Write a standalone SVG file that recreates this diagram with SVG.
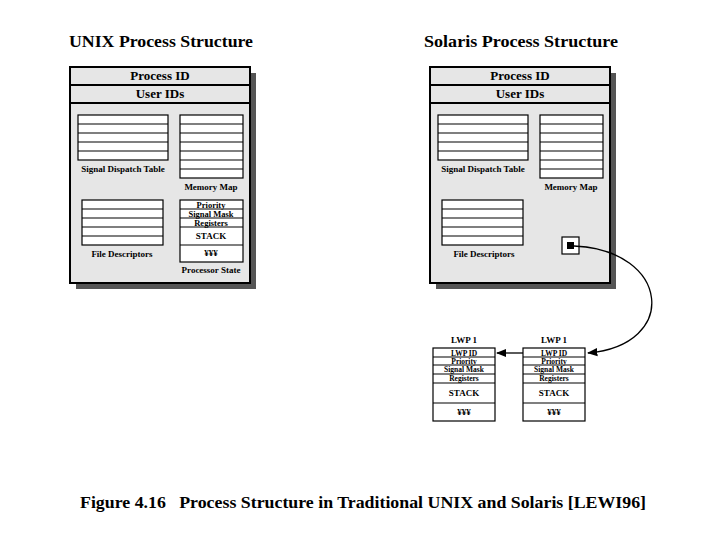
<svg xmlns="http://www.w3.org/2000/svg" width="720" height="540" viewBox="0 0 720 540">
<style>
text{font-family:"Liberation Serif","Times New Roman",serif;font-weight:bold;fill:#000;text-anchor:middle}
.t{font-size:17px}.h{font-size:13px}.s{font-size:9px}.l{font-size:8.5px}.m{font-size:7.5px}.c{font-size:17px;text-anchor:start}
.box{fill:#e6e6e6;stroke:#000;stroke-width:2}
.sh{fill:#555}
.w{fill:#fff;stroke:#000;stroke-width:1.2}
.cn{fill:none;stroke:#000;stroke-width:1.3}
</style>
<defs>
<marker id="a" viewBox="0 0 10 10" refX="9" refY="5" markerWidth="8" markerHeight="8" orient="auto"><path d="M0,1 L10,5 L0,9 z"/></marker>
<g id="rows5"><rect class="w" x="0" y="0" width="90" height="45"/><path d="M0,9H90M0,18H90M0,27H90M0,36H90" stroke="#000" stroke-width="1.2"/></g>
</defs>
<text class="t" x="161" y="47" textLength="184" lengthAdjust="spacingAndGlyphs">UNIX Process Structure</text>
<text class="t" x="521" y="47" textLength="194" lengthAdjust="spacingAndGlyphs">Solaris Process Structure</text>

<g id="unix">
<rect class="sh" x="76" y="73" width="180" height="216"/>
<rect class="box" x="70" y="67" width="180" height="216"/>
<rect class="box" x="70" y="67" width="180" height="18"/>
<rect class="box" x="70" y="85" width="180" height="18"/>
<text class="h" x="160" y="80">Process ID</text>
<text class="h" x="160" y="98">User IDs</text>
<use href="#rows5" x="78" y="115"/>
<text class="s" x="123" y="172">Signal Dispatch Table</text>
<rect class="w" x="180" y="115" width="63" height="63"/>
<path d="M180,124H243M180,133H243M180,142H243M180,151H243M180,160H243M180,169H243" stroke="#000" stroke-width="1.2"/>
<text class="s" x="211" y="190">Memory Map</text>
<rect class="w" x="82" y="200" width="81" height="45"/>
<path d="M82,209H163M82,218H163M82,227H163M82,236H163" stroke="#000" stroke-width="1.2"/>
<text class="s" x="122" y="257">File Descriptors</text>
<rect class="w" x="180" y="200" width="63" height="62"/>
<path d="M180,209H243M180,218H243M180,227H243M180,245H243" stroke="#000" stroke-width="1.2"/>
<text class="l" x="211" y="207.5">Priority</text>
<text class="l" x="211" y="216.5">Signal Mask</text>
<text class="l" x="211" y="225.5">Registers</text>
<text class="s" x="211" y="239">STACK</text>
<text class="s" x="211" y="256">¥¥¥</text>
<text class="s" x="211" y="273">Processor State</text>
</g>

<g id="solaris">
<rect class="sh" x="436" y="73" width="180" height="216"/>
<rect class="box" x="430" y="67" width="180" height="216"/>
<rect class="box" x="430" y="67" width="180" height="18"/>
<rect class="box" x="430" y="85" width="180" height="18"/>
<text class="h" x="520" y="80">Process ID</text>
<text class="h" x="520" y="98">User IDs</text>
<use href="#rows5" x="438" y="115"/>
<text class="s" x="483" y="172">Signal Dispatch Table</text>
<rect class="w" x="540" y="115" width="63" height="63"/>
<path d="M540,124H603M540,133H603M540,142H603M540,151H603M540,160H603M540,169H603" stroke="#000" stroke-width="1.2"/>
<text class="s" x="571" y="190">Memory Map</text>
<rect class="w" x="442" y="200" width="81" height="45"/>
<path d="M442,209H523M442,218H523M442,227H523M442,236H523" stroke="#000" stroke-width="1.2"/>
<text class="s" x="484" y="257">File Descriptors</text>
<rect class="w" x="562" y="237" width="17" height="17"/>
<rect x="567" y="242" width="7" height="7" fill="#000"/>
</g>

<g id="lwp1">
<text class="s" x="464" y="343">LWP 1</text>
<rect class="w" x="433" y="348" width="62" height="73"/>
<path d="M433,357H495M433,365H495M433,374H495M433,383H495M433,403H495" stroke="#000" stroke-width="1.2"/>
<text class="m" x="464" y="355.5">LWP ID</text>
<text class="m" x="464" y="363.5">Priority</text>
<text class="m" x="464" y="372">Signal Mask</text>
<text class="m" x="464" y="381">Registers</text>
<text class="s" x="464" y="396">STACK</text>
<text class="s" x="464" y="415">¥¥¥</text>
</g>
<g id="lwp2">
<text class="s" x="554" y="343">LWP 1</text>
<rect class="w" x="523" y="348" width="62" height="73"/>
<path d="M523,357H585M523,365H585M523,374H585M523,383H585M523,403H585" stroke="#000" stroke-width="1.2"/>
<text class="m" x="554" y="355.5">LWP ID</text>
<text class="m" x="554" y="363.5">Priority</text>
<text class="m" x="554" y="372">Signal Mask</text>
<text class="m" x="554" y="381">Registers</text>
<text class="s" x="554" y="396">STACK</text>
<text class="s" x="554" y="415">¥¥¥</text>
</g>

<g id="connectors">
<path class="cn" d="M574,246 C670,250 680,345 588,353" marker-end="url(#a)"/>
<path class="cn" d="M523,353H497" marker-end="url(#a)"/>
</g>

<text class="c" x="80" y="508" xml:space="preserve" textLength="566" lengthAdjust="spacingAndGlyphs">Figure 4.16   Process Structure in Traditional UNIX and Solaris [LEWI96]</text>
</svg>
